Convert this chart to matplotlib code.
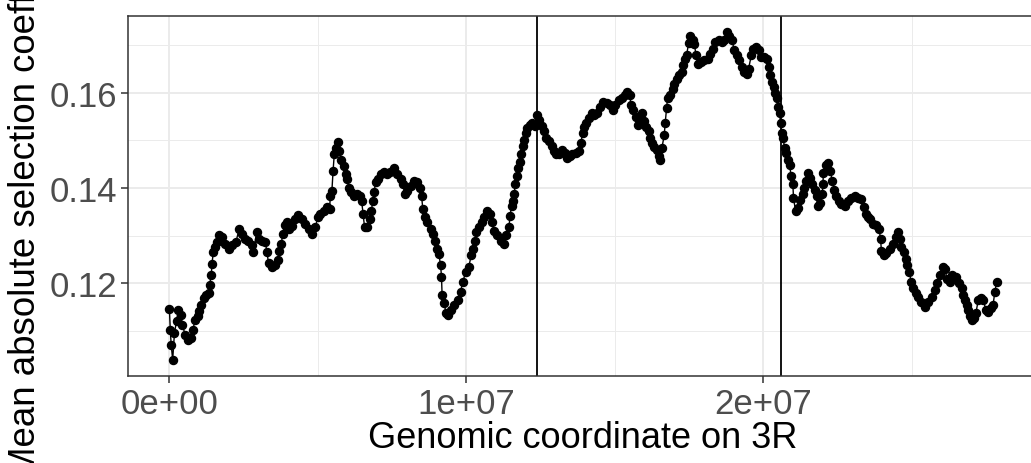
import numpy as np
import matplotlib
matplotlib.use("Agg")
import matplotlib.pyplot as plt
from matplotlib.ticker import FuncFormatter, MultipleLocator

# window midpoints along 3R (Mb)
pos_mb = [
    0.00, 0.03, 0.06, 0.11, 0.17, 0.24, 0.30, 0.39, 0.44, 0.53,
    0.64, 0.72, 0.79, 0.87, 0.95, 1.00, 1.07, 1.15, 1.22, 1.32,
    1.35, 1.41, 1.43, 1.48, 1.52, 1.60, 1.68, 1.76, 1.88, 1.99,
    2.10, 2.24, 2.35, 2.44, 2.55, 2.66, 2.78, 2.83, 2.94, 3.00,
    3.11, 3.23, 3.28, 3.34, 3.45, 3.56, 3.65, 3.70, 3.77, 3.81,
    3.88, 3.96, 4.04, 4.12, 4.24, 4.34, 4.46, 4.58, 4.69, 4.80,
    4.91, 5.00, 5.08, 5.19, 5.31, 5.39, 5.42, 5.47, 5.51, 5.55,
    5.61, 5.68, 5.72, 5.79, 5.87, 5.93, 5.98, 6.04, 6.13, 6.21,
    6.32, 6.40, 6.47, 6.52, 6.57, 6.65, 6.74, 6.80, 6.85, 6.89,
    6.94, 7.03, 7.11, 7.22, 7.33, 7.44, 7.55, 7.67, 7.78, 7.86,
    7.93, 8.00, 8.12, 8.23, 8.34, 8.42, 8.49, 8.53, 8.60, 8.68,
    8.79, 8.87, 8.94, 9.01, 9.07, 9.13, 9.16, 9.18, 9.24, 9.32,
    9.39, 9.47, 9.58, 9.72, 9.80, 9.88, 9.97, 10.08, 10.16, 10.22,
    10.29, 10.33, 10.42, 10.51, 10.59, 10.70, 10.78, 10.85, 10.93, 11.04,
    11.15, 11.26, 11.34, 11.43, 11.47, 11.52, 11.57, 11.61, 11.64, 11.69,
    11.75, 11.79, 11.85, 11.91, 11.95, 12.00, 12.05, 12.13, 12.22, 12.31,
    12.38, 12.45, 12.54, 12.61, 12.69, 12.78, 12.87, 12.95, 13.03, 13.12,
    13.23, 13.32, 13.40, 13.48, 13.57, 13.68, 13.79, 13.85, 13.91, 13.96,
    14.04, 14.13, 14.22, 14.30, 14.41, 14.49, 14.60, 14.72, 14.83, 14.92,
    15.01, 15.12, 15.23, 15.35, 15.42, 15.50, 15.54, 15.62, 15.71, 15.76,
    15.84, 15.91, 15.99, 16.06, 16.13, 16.18, 16.25, 16.32, 16.40, 16.47,
    16.52, 16.58, 16.66, 16.69, 16.74, 16.77, 16.85, 16.94, 17.00, 17.08,
    17.17, 17.26, 17.30, 17.37, 17.41, 17.48, 17.54, 17.62, 17.67, 17.73,
    17.78, 17.90, 18.01, 18.12, 18.20, 18.29, 18.38, 18.49, 18.61, 18.68,
    18.76, 18.85, 18.94, 19.02, 19.10, 19.19, 19.28, 19.36, 19.44, 19.50,
    19.59, 19.66, 19.75, 19.84, 19.92, 20.03, 20.11, 20.18, 20.23, 20.29,
    20.34, 20.40, 20.45, 20.48, 20.54, 20.58, 20.61, 20.65, 20.72, 20.77,
    20.82, 20.88, 20.93, 20.99, 21.01, 21.08, 21.16, 21.24, 21.33, 21.38,
    21.44, 21.49, 21.55, 21.64, 21.72, 21.80, 21.83, 21.91, 21.98, 22.00,
    22.02, 22.09, 22.17, 22.25, 22.32, 22.39, 22.45, 22.54, 22.62, 22.73,
    22.84, 22.96, 23.07, 23.18, 23.30, 23.37, 23.44, 23.52, 23.60, 23.69,
    23.80, 23.89, 23.94, 23.97, 24.05, 24.14, 24.25, 24.36, 24.45, 24.53,
    24.59, 24.64, 24.72, 24.79, 24.83, 24.90, 24.98, 25.04, 25.13, 25.20,
    25.32, 25.43, 25.54, 25.66, 25.77, 25.84, 25.94, 26.03, 26.10, 26.18,
    26.27, 26.36, 26.48, 26.59, 26.67, 26.72, 26.78, 26.84, 26.89, 26.95,
    27.01, 27.08, 27.15, 27.23, 27.31, 27.40, 27.49, 27.57, 27.65, 27.73,
    27.79, 27.85,
]

# mean |s| per window
mean_abs_s = [
    0.1146, 0.1102, 0.1071, 0.1040, 0.1096, 0.1121, 0.1144, 0.1134, 0.1112, 0.1092,
    0.1082, 0.1085, 0.1103, 0.1124, 0.1131, 0.1142, 0.1155, 0.1169, 0.1176, 0.1179,
    0.1197, 0.1217, 0.1240, 0.1266, 0.1276, 0.1287, 0.1301, 0.1297, 0.1283, 0.1273,
    0.1280, 0.1287, 0.1315, 0.1304, 0.1294, 0.1290, 0.1280, 0.1266, 0.1308, 0.1294,
    0.1290, 0.1287, 0.1266, 0.1242, 0.1235, 0.1238, 0.1249, 0.1269, 0.1283, 0.1304,
    0.1323, 0.1328, 0.1315, 0.1321, 0.1335, 0.1344, 0.1335, 0.1325, 0.1315, 0.1304,
    0.1318, 0.1339, 0.1346, 0.1353, 0.1360, 0.1356, 0.1384, 0.1394, 0.1436, 0.1471,
    0.1485, 0.1497, 0.1478, 0.1460, 0.1446, 0.1429, 0.1419, 0.1401, 0.1391, 0.1384,
    0.1388, 0.1384, 0.1374, 0.1346, 0.1318, 0.1318, 0.1335, 0.1353, 0.1374, 0.1391,
    0.1412, 0.1419, 0.1429, 0.1433, 0.1429, 0.1433, 0.1443, 0.1429, 0.1419, 0.1408,
    0.1388, 0.1394, 0.1405, 0.1415, 0.1412, 0.1401, 0.1384, 0.1356, 0.1339, 0.1328,
    0.1315, 0.1304, 0.1290, 0.1273, 0.1262, 0.1238, 0.1214, 0.1176, 0.1158, 0.1138,
    0.1134, 0.1144, 0.1155, 0.1165, 0.1183, 0.1203, 0.1224, 0.1235, 0.1259, 0.1273,
    0.1290, 0.1308, 0.1318, 0.1328, 0.1339, 0.1353, 0.1346, 0.1328, 0.1311, 0.1301,
    0.1290, 0.1283, 0.1301, 0.1318, 0.1342, 0.1363, 0.1374, 0.1388, 0.1408, 0.1426,
    0.1443, 0.1454, 0.1471, 0.1488, 0.1502, 0.1516, 0.1526, 0.1533, 0.1537, 0.1530,
    0.1554, 0.1544, 0.1530, 0.1519, 0.1505, 0.1499, 0.1488, 0.1478, 0.1471, 0.1471,
    0.1481, 0.1474, 0.1464, 0.1467, 0.1471, 0.1474, 0.1477, 0.1494, 0.1515, 0.1529,
    0.1536, 0.1547, 0.1557, 0.1554, 0.1557, 0.1571, 0.1581, 0.1579, 0.1574, 0.1564,
    0.1574, 0.1585, 0.1589, 0.1595, 0.1602, 0.1595, 0.1574, 0.1564, 0.1550, 0.1533,
    0.1547, 0.1557, 0.1540, 0.1529, 0.1519, 0.1505, 0.1494, 0.1487, 0.1480, 0.1467,
    0.1460, 0.1484, 0.1512, 0.1536, 0.1568, 0.1589, 0.1595, 0.1609, 0.1619, 0.1630,
    0.1637, 0.1644, 0.1658, 0.1672, 0.1679, 0.1704, 0.1720, 0.1710, 0.1703, 0.1679,
    0.1661, 0.1665, 0.1668, 0.1672, 0.1682, 0.1693, 0.1706, 0.1710, 0.1706, 0.1710,
    0.1727, 0.1720, 0.1710, 0.1689, 0.1679, 0.1668, 0.1654, 0.1644, 0.1640, 0.1651,
    0.1679, 0.1693, 0.1696, 0.1689, 0.1675, 0.1676, 0.1672, 0.1654, 0.1637, 0.1623,
    0.1613, 0.1599, 0.1589, 0.1571, 0.1557, 0.1536, 0.1515, 0.1505, 0.1484, 0.1474,
    0.1460, 0.1449, 0.1425, 0.1408, 0.1380, 0.1352, 0.1359, 0.1376, 0.1387, 0.1401,
    0.1415, 0.1432, 0.1422, 0.1408, 0.1397, 0.1383, 0.1363, 0.1369, 0.1387, 0.1408,
    0.1432, 0.1449, 0.1453, 0.1435, 0.1415, 0.1397, 0.1383, 0.1373, 0.1366, 0.1363,
    0.1373, 0.1380, 0.1383, 0.1380, 0.1377, 0.1361, 0.1346, 0.1339, 0.1335, 0.1325,
    0.1322, 0.1315, 0.1294, 0.1269, 0.1259, 0.1263, 0.1273, 0.1283, 0.1297, 0.1308,
    0.1294, 0.1276, 0.1266, 0.1252, 0.1238, 0.1224, 0.1203, 0.1190, 0.1179, 0.1172,
    0.1162, 0.1151, 0.1162, 0.1172, 0.1186, 0.1200, 0.1217, 0.1235, 0.1231, 0.1210,
    0.1203, 0.1217, 0.1214, 0.1200, 0.1190, 0.1176, 0.1165, 0.1155, 0.1144, 0.1131,
    0.1124, 0.1127, 0.1137, 0.1165, 0.1169, 0.1165, 0.1144, 0.1141, 0.1148, 0.1155,
    0.1183, 0.1202,
]

# inversion breakpoints (Mb)
breakpoints_mb = [12.38, 20.58]

x = np.array(pos_mb) * 1e6
y = np.array(mean_abs_s)

plt.rcParams['font.family'] = ['Liberation Sans', 'DejaVu Sans']

fig = plt.figure(figsize=(10.31, 4.64), dpi=100)
ax = fig.add_axes([0.1242, 0.1875, 0.8826, 0.7759])

# 5% padding on both axes, like ggplot's default expansion
xpad = 0.05 * (x.max() - x.min())
ypad = 0.05 * (y.max() - y.min())
ax.set_xlim(x.min() - xpad, x.max() + xpad)
ax.set_ylim(y.min() - ypad, y.max() + ypad)

ax.xaxis.set_major_locator(MultipleLocator(1e7))
ax.xaxis.set_minor_locator(MultipleLocator(5e6))
ax.yaxis.set_major_locator(MultipleLocator(0.02))
ax.yaxis.set_minor_locator(MultipleLocator(0.01))
ax.xaxis.set_major_formatter(FuncFormatter(lambda v, p: '{:.0e}'.format(v)))
ax.yaxis.set_major_formatter(FuncFormatter(lambda v, p: '{:.2f}'.format(v)))

ax.set_axisbelow(True)
ax.grid(which='major', color='#EBEBEB', lw=1.4)
ax.grid(which='minor', color='#EBEBEB', lw=0.7)
ax.tick_params(which='major', length=5, width=1.1, color='#333333',
               labelcolor='#4D4D4D', labelsize=25, pad=3)
ax.tick_params(which='minor', length=0)
for s in ax.spines.values():
    s.set_color('#333333')
    s.set_linewidth(1.1)

ax.plot(x, y, color='black', lw=1.0, marker='o', ms=5.8, zorder=3)
for b in breakpoints_mb:
    ax.axvline(b * 1e6, color='black', lw=1.3, zorder=2)

ax.set_xlabel('Genomic coordinate on 3R', fontsize=26)
ax.set_ylabel('Mean absolute selection coefficient', fontsize=26.4)
ax.xaxis.set_label_coords(0.5, -0.122)
ax.yaxis.set_label_coords(-0.094, 0.514)

fig.savefig('out.png', dpi=100)
